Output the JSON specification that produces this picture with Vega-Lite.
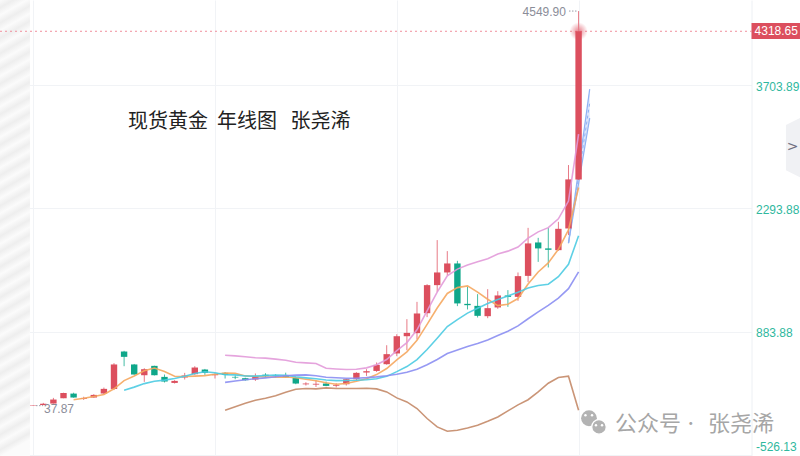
{"$schema":"https://vega.github.io/schema/vega-lite/v6.json","width":751.5,"height":456,"autosize":"none","padding":{"left":0,"top":0,"right":48.5,"bottom":0},"background":"#ffffff","view":{"stroke":null},
"datasets":{"candles":[
{"year":1971,"open":38.5,"close":43.5,"high":44,"low":37.87},{"year":1972,"open":45,"close":60,"high":70,"low":44},{"year":1973,"open":62,"close":108,"high":127,"low":62},{"year":1974,"open":123,"close":184,"high":186,"low":123},{"year":1975,"open":176,"close":131,"high":186,"low":129},{"year":1976,"open":116,"close":126,"high":140,"low":103},{"year":1977,"open":131,"close":161,"high":169,"low":128},{"year":1978,"open":177,"close":230,"high":245,"low":170},{"year":1979,"open":229,"close":509,"high":524,"low":216},{"year":1980,"open":657,"close":596,"high":665,"low":489},{"year":1981,"open":509,"close":394,"high":515,"low":392},{"year":1982,"open":386,"close":455,"high":466,"low":310},{"year":1983,"open":493,"close":386,"high":495,"low":383},{"year":1984,"open":367,"close":314,"high":394,"low":303},{"year":1985,"open":298,"close":321,"high":330,"low":291},{"year":1986,"open":360,"close":383,"high":413,"low":337},{"year":1987,"open":398,"close":474,"high":489,"low":390},{"year":1988,"open":451,"close":413,"high":458,"low":390},{"year":1989,"open":386,"close":398,"high":409,"low":348},{"year":1990,"open":413,"close":390,"high":421,"low":348},{"year":1991,"open":367,"close":360,"high":386,"low":340},{"year":1992,"open":352,"close":329,"high":358,"low":323},{"year":1993,"open":337,"close":378,"high":406,"low":321},{"year":1994,"open":392,"close":375,"high":409,"low":363},{"year":1995,"open":386,"close":380,"high":398,"low":358},{"year":1996,"open":380,"close":363,"high":415,"low":358},{"year":1997,"open":355,"close":291,"high":363,"low":283},{"year":1998,"open":282,"close":291,"high":306,"low":268},{"year":1999,"open":279,"close":288,"high":329,"low":252},{"year":2000,"open":291,"close":264,"high":314,"low":260},{"year":2001,"open":266,"close":276,"high":295,"low":246},{"year":2002,"open":283,"close":340,"high":346,"low":268},{"year":2003,"open":340,"close":413,"high":421,"low":326},{"year":2004,"open":417,"close":432,"high":455,"low":378},{"year":2005,"open":435,"close":504,"high":532,"low":424},{"year":2006,"open":512,"close":627,"high":729,"low":506},{"year":2007,"open":635,"close":832,"high":855,"low":604},{"year":2008,"open":832,"close":870,"high":1027,"low":672},{"year":2009,"open":867,"close":1092,"high":1225,"low":795},{"year":2010,"open":1095,"close":1416,"high":1427,"low":1050},{"year":2011,"open":1416,"close":1561,"high":1931,"low":1339},{"year":2012,"open":1561,"close":1664,"high":1805,"low":1527},{"year":2013,"open":1664,"close":1207,"high":1694,"low":1176},{"year":2014,"open":1202,"close":1187,"high":1396,"low":1138},{"year":2015,"open":1179,"close":1065,"high":1313,"low":1046},{"year":2016,"open":1061,"close":1153,"high":1370,"low":1038},{"year":2017,"open":1161,"close":1298,"high":1347,"low":1145},{"year":2018,"open":1298,"close":1282,"high":1359,"low":1168},{"year":2019,"open":1282,"close":1519,"high":1561,"low":1236},{"year":2020,"open":1522,"close":1893,"high":2071,"low":1450},{"year":2021,"open":1904,"close":1836,"high":1957,"low":1682},{"year":2022,"open":1836,"close":1820,"high":2071,"low":1618},{"year":2023,"open":1816,"close":2060,"high":2140,"low":1808},{"year":2024,"open":2064,"close":2625,"high":2789,"low":1988},{"year":2025,"open":2625,"close":4318.65,"high":4549.9,"low":2617}],
"lines":[
{"s":"MA5","year":1975,"value":105},{"s":"MA5","year":1976,"value":122},{"s":"MA5","year":1977,"value":142},{"s":"MA5","year":1978,"value":166},{"s":"MA5","year":1979,"value":231},{"s":"MA5","year":1980,"value":324},{"s":"MA5","year":1981,"value":378},{"s":"MA5","year":1982,"value":437},{"s":"MA5","year":1983,"value":468},{"s":"MA5","year":1984,"value":429},{"s":"MA5","year":1985,"value":374},{"s":"MA5","year":1986,"value":372},{"s":"MA5","year":1987,"value":376},{"s":"MA5","year":1988,"value":381},{"s":"MA5","year":1989,"value":398},{"s":"MA5","year":1990,"value":411},{"s":"MA5","year":1991,"value":407},{"s":"MA5","year":1992,"value":378},{"s":"MA5","year":1993,"value":371},{"s":"MA5","year":1994,"value":366},{"s":"MA5","year":1995,"value":364},{"s":"MA5","year":1996,"value":365},{"s":"MA5","year":1997,"value":357},{"s":"MA5","year":1998,"value":340},{"s":"MA5","year":1999,"value":323},{"s":"MA5","year":2000,"value":299},{"s":"MA5","year":2001,"value":282},{"s":"MA5","year":2002,"value":292},{"s":"MA5","year":2003,"value":316},{"s":"MA5","year":2004,"value":345},{"s":"MA5","year":2005,"value":393},{"s":"MA5","year":2006,"value":463},{"s":"MA5","year":2007,"value":562},{"s":"MA5","year":2008,"value":653},{"s":"MA5","year":2009,"value":785},{"s":"MA5","year":2010,"value":967},{"s":"MA5","year":2011,"value":1154},{"s":"MA5","year":2012,"value":1321},{"s":"MA5","year":2013,"value":1388},{"s":"MA5","year":2014,"value":1407},{"s":"MA5","year":2015,"value":1337},{"s":"MA5","year":2016,"value":1255},{"s":"MA5","year":2017,"value":1182},{"s":"MA5","year":2018,"value":1197},{"s":"MA5","year":2019,"value":1263},{"s":"MA5","year":2020,"value":1429},{"s":"MA5","year":2021,"value":1566},{"s":"MA5","year":2022,"value":1670},{"s":"MA5","year":2023,"value":1826},{"s":"MA5","year":2024,"value":2047},{"s":"MA5","year":2025,"value":2532},
{"s":"MA10","year":1980,"value":215},{"s":"MA10","year":1981,"value":250},{"s":"MA10","year":1982,"value":290},{"s":"MA10","year":1983,"value":317},{"s":"MA10","year":1984,"value":330},{"s":"MA10","year":1985,"value":349},{"s":"MA10","year":1986,"value":375},{"s":"MA10","year":1987,"value":406},{"s":"MA10","year":1988,"value":425},{"s":"MA10","year":1989,"value":414},{"s":"MA10","year":1990,"value":392},{"s":"MA10","year":1991,"value":390},{"s":"MA10","year":1992,"value":377},{"s":"MA10","year":1993,"value":376},{"s":"MA10","year":1994,"value":382},{"s":"MA10","year":1995,"value":388},{"s":"MA10","year":1996,"value":386},{"s":"MA10","year":1997,"value":368},{"s":"MA10","year":1998,"value":356},{"s":"MA10","year":1999,"value":345},{"s":"MA10","year":2000,"value":332},{"s":"MA10","year":2001,"value":324},{"s":"MA10","year":2002,"value":325},{"s":"MA10","year":2003,"value":328},{"s":"MA10","year":2004,"value":334},{"s":"MA10","year":2005,"value":346},{"s":"MA10","year":2006,"value":373},{"s":"MA10","year":2007,"value":427},{"s":"MA10","year":2008,"value":485},{"s":"MA10","year":2009,"value":565},{"s":"MA10","year":2010,"value":680},{"s":"MA10","year":2011,"value":809},{"s":"MA10","year":2012,"value":942},{"s":"MA10","year":2013,"value":1021},{"s":"MA10","year":2014,"value":1096},{"s":"MA10","year":2015,"value":1152},{"s":"MA10","year":2016,"value":1205},{"s":"MA10","year":2017,"value":1252},{"s":"MA10","year":2018,"value":1293},{"s":"MA10","year":2019,"value":1335},{"s":"MA10","year":2020,"value":1383},{"s":"MA10","year":2021,"value":1411},{"s":"MA10","year":2022,"value":1426},{"s":"MA10","year":2023,"value":1512},{"s":"MA10","year":2024,"value":1655},{"s":"MA10","year":2025,"value":1981},
{"s":"MA20","year":1990,"value":304},{"s":"MA20","year":1991,"value":320},{"s":"MA20","year":1992,"value":334},{"s":"MA20","year":1993,"value":346},{"s":"MA20","year":1994,"value":356},{"s":"MA20","year":1995,"value":368},{"s":"MA20","year":1996,"value":380},{"s":"MA20","year":1997,"value":387},{"s":"MA20","year":1998,"value":390},{"s":"MA20","year":1999,"value":380},{"s":"MA20","year":2000,"value":362},{"s":"MA20","year":2001,"value":357},{"s":"MA20","year":2002,"value":351},{"s":"MA20","year":2003,"value":352},{"s":"MA20","year":2004,"value":358},{"s":"MA20","year":2005,"value":367},{"s":"MA20","year":2006,"value":380},{"s":"MA20","year":2007,"value":398},{"s":"MA20","year":2008,"value":420},{"s":"MA20","year":2009,"value":455},{"s":"MA20","year":2010,"value":506},{"s":"MA20","year":2011,"value":566},{"s":"MA20","year":2012,"value":634},{"s":"MA20","year":2013,"value":674},{"s":"MA20","year":2014,"value":715},{"s":"MA20","year":2015,"value":749},{"s":"MA20","year":2016,"value":789},{"s":"MA20","year":2017,"value":840},{"s":"MA20","year":2018,"value":889},{"s":"MA20","year":2019,"value":950},{"s":"MA20","year":2020,"value":1032},{"s":"MA20","year":2021,"value":1110},{"s":"MA20","year":2022,"value":1184},{"s":"MA20","year":2023,"value":1267},{"s":"MA20","year":2024,"value":1376},{"s":"MA20","year":2025,"value":1567},
{"s":"UP","year":1990,"value":615},{"s":"UP","year":1991,"value":607},{"s":"UP","year":1992,"value":598},{"s":"UP","year":1993,"value":586},{"s":"UP","year":1994,"value":581},{"s":"UP","year":1995,"value":570},{"s":"UP","year":1996,"value":558},{"s":"UP","year":1997,"value":535},{"s":"UP","year":1998,"value":527},{"s":"UP","year":1999,"value":520},{"s":"UP","year":2000,"value":466},{"s":"UP","year":2001,"value":458},{"s":"UP","year":2002,"value":452},{"s":"UP","year":2003,"value":455},{"s":"UP","year":2004,"value":470},{"s":"UP","year":2005,"value":506},{"s":"UP","year":2006,"value":565},{"s":"UP","year":2007,"value":667},{"s":"UP","year":2008,"value":759},{"s":"UP","year":2009,"value":905},{"s":"UP","year":2010,"value":1121},{"s":"UP","year":2011,"value":1337},{"s":"UP","year":2012,"value":1522},{"s":"UP","year":2013,"value":1599},{"s":"UP","year":2014,"value":1647},{"s":"UP","year":2015,"value":1684},{"s":"UP","year":2016,"value":1718},{"s":"UP","year":2017,"value":1771},{"s":"UP","year":2018,"value":1805},{"s":"UP","year":2019,"value":1851},{"s":"UP","year":2020,"value":1954},{"s":"UP","year":2021,"value":2025},{"s":"UP","year":2022,"value":2073},{"s":"UP","year":2023,"value":2174},{"s":"UP","year":2024,"value":2377},{"s":"UP","year":2025,"value":3143},
{"s":"DN","year":1990,"value":-14},{"s":"DN","year":1991,"value":26},{"s":"DN","year":1992,"value":66},{"s":"DN","year":1993,"value":100},{"s":"DN","year":1994,"value":123},{"s":"DN","year":1995,"value":152},{"s":"DN","year":1996,"value":192},{"s":"DN","year":1997,"value":226},{"s":"DN","year":1998,"value":234},{"s":"DN","year":1999,"value":230},{"s":"DN","year":2000,"value":241},{"s":"DN","year":2001,"value":234},{"s":"DN","year":2002,"value":234},{"s":"DN","year":2003,"value":235},{"s":"DN","year":2004,"value":237},{"s":"DN","year":2005,"value":230},{"s":"DN","year":2006,"value":195},{"s":"DN","year":2007,"value":127},{"s":"DN","year":2008,"value":81},{"s":"DN","year":2009,"value":5},{"s":"DN","year":2010,"value":-109},{"s":"DN","year":2011,"value":-205},{"s":"DN","year":2012,"value":-254},{"s":"DN","year":2013,"value":-243},{"s":"DN","year":2014,"value":-217},{"s":"DN","year":2015,"value":-186},{"s":"DN","year":2016,"value":-140},{"s":"DN","year":2017,"value":-91},{"s":"DN","year":2018,"value":-22},{"s":"DN","year":2019,"value":47},{"s":"DN","year":2020,"value":106},{"s":"DN","year":2021,"value":195},{"s":"DN","year":2022,"value":295},{"s":"DN","year":2023,"value":360},{"s":"DN","year":2024,"value":375},{"s":"DN","year":2025,"value":-14}]},
"encoding":{"x":{"field":"year","type":"quantitative","title":null,"scale":{"domain":[1967.713,2042.12],"nice":false,"zero":false,"padding":0},"axis":{"values":[1971,1989,2007,2025],"labels":false,"ticks":false,"domain":false,"grid":true,"gridColor":"#f1f3f6","gridWidth":1,"title":null}},
"y":{"field":"value","type":"quantitative","title":null,"scale":{"domain":[-537.6,4676.3],"nice":false,"zero":false,"padding":0},"axis":{"orient":"right","values":[3703.89,2293.88,883.88,-526.13],"format":".2f","labelExpr":"replace(datum.label,'\u2212','-')","ticks":false,"grid":true,"gridColor":"#f1f3f6","gridWidth":1,"domain":true,"domainColor":"#edf0f4","labelColor":"#2fb89e","labelFont":"Liberation Sans","labelFontSize":12,"labelPadding":4,"labelOffset":{"condition":{"test":"datum.value<0","value":-8},"value":1},"title":null}}},
"layer":[
{"data":{"values":[{"year":1967.713,"year2":1970.68,"value":4676.3,"value2":-537.6}]},"mark":{"type":"rect","color":{"gradient":"linear","x1":0,"y1":0,"x2":0.0374,"y2":1,"stops":[{"offset":0,"color":"#fbfbfb"},{"offset":0.0167,"color":"#eeeeee"},{"offset":0.0334,"color":"#fbfbfb"},{"offset":0.0501,"color":"#eeeeee"},{"offset":0.0668,"color":"#fbfbfb"},{"offset":0.0835,"color":"#eeeeee"},{"offset":0.1002,"color":"#fbfbfb"},{"offset":0.1169,"color":"#eeeeee"},{"offset":0.1336,"color":"#fbfbfb"},{"offset":0.1503,"color":"#eeeeee"},{"offset":0.167,"color":"#fbfbfb"},{"offset":0.1837,"color":"#eeeeee"},{"offset":0.2004,"color":"#fbfbfb"},{"offset":0.2171,"color":"#eeeeee"},{"offset":0.2338,"color":"#fbfbfb"},{"offset":0.2505,"color":"#eeeeee"},{"offset":0.2672,"color":"#fbfbfb"},{"offset":0.2839,"color":"#eeeeee"},{"offset":0.3006,"color":"#fbfbfb"},{"offset":0.3173,"color":"#eeeeee"},{"offset":0.334,"color":"#fbfbfb"},{"offset":0.3507,"color":"#eeeeee"},{"offset":0.3674,"color":"#fbfbfb"},{"offset":0.3841,"color":"#eeeeee"},{"offset":0.4008,"color":"#fbfbfb"},{"offset":0.4175,"color":"#eeeeee"},{"offset":0.4342,"color":"#fbfbfb"},{"offset":0.4509,"color":"#eeeeee"},{"offset":0.4676,"color":"#fbfbfb"},{"offset":0.4843,"color":"#eeeeee"},{"offset":0.501,"color":"#fbfbfb"},{"offset":0.5177,"color":"#eeeeee"},{"offset":0.5344,"color":"#fbfbfb"},{"offset":0.5511,"color":"#eeeeee"},{"offset":0.5678,"color":"#fbfbfb"},{"offset":0.5845,"color":"#eeeeee"},{"offset":0.6012,"color":"#fbfbfb"},{"offset":0.6179,"color":"#eeeeee"},{"offset":0.6346,"color":"#fbfbfb"},{"offset":0.6513,"color":"#eeeeee"},{"offset":0.668,"color":"#fbfbfb"},{"offset":0.6847,"color":"#eeeeee"},{"offset":0.7014,"color":"#fbfbfb"},{"offset":0.7181,"color":"#eeeeee"},{"offset":0.7348,"color":"#fbfbfb"},{"offset":0.7515,"color":"#eeeeee"},{"offset":0.7682,"color":"#fbfbfb"},{"offset":0.7849,"color":"#eeeeee"},{"offset":0.8016,"color":"#fbfbfb"},{"offset":0.8183,"color":"#eeeeee"},{"offset":0.835,"color":"#fbfbfb"},{"offset":0.8517,"color":"#eeeeee"},{"offset":0.8684,"color":"#fbfbfb"},{"offset":0.8851,"color":"#eeeeee"},{"offset":0.9018,"color":"#fbfbfb"},{"offset":0.9185,"color":"#eeeeee"},{"offset":0.9352,"color":"#fbfbfb"},{"offset":0.9519,"color":"#eeeeee"},{"offset":0.9686,"color":"#fbfbfb"},{"offset":0.9853,"color":"#eeeeee"},{"offset":1,"color":"#fbfbfb"}]}},"encoding":{"x2":{"field":"year2"},"y2":{"field":"value2"}}},
{"data":{"values":[{"year":1967.713,"year2":2042.12,"value":4318.65}]},"mark":{"type":"rule","color":"#f0909c","strokeWidth":1,"strokeDash":[2,3]},"encoding":{"x2":{"field":"year2"}}},
{"data":{"values":[{"year":2024,"value":1896,"value2":1896},{"year":2026.1,"value":3658,"value2":3326}]},"mark":{"type":"area","color":"#dbe6fb","orient":"vertical"},"encoding":{"y2":{"field":"value2"}}},
{"data":{"values":[{"s":"a","year":2024,"value":1896},{"s":"a","year":2026.1,"value":3658},{"s":"b","year":2024,"value":1896},{"s":"b","year":2026.1,"value":3326}]},"mark":{"type":"line","color":"#8fb2f4","strokeWidth":1.2},"encoding":{"detail":{"field":"s"}}},
{"data":{"values":[{"year":2024,"value":1896},{"year":2026.1,"value":3498}]},"mark":{"type":"line","color":"#8fb2f4","strokeWidth":1,"strokeDash":[3,3]}},
{"data":{"values":[{"year":2025,"value":4318}]},"mark":{"type":"point","filled":true,"size":330,"opacity":1,"color":{"gradient":"radial","stops":[{"offset":0,"color":"rgba(224,88,104,0.75)"},{"offset":1,"color":"rgba(224,88,104,0)"}]}}},
{"data":{"name":"candles"},"mark":{"type":"rule","strokeWidth":1},"encoding":{"y":{"field":"high","type":"quantitative","title":null,"scale":{"domain":[-537.6,4676.3],"nice":false,"zero":false,"padding":0},"axis":{"orient":"right","values":[3703.89,2293.88,883.88,-526.13],"format":".2f","labelExpr":"replace(datum.label,'\u2212','-')","ticks":false,"grid":true,"gridColor":"#f1f3f6","gridWidth":1,"domain":true,"domainColor":"#edf0f4","labelColor":"#2fb89e","labelFont":"Liberation Sans","labelFontSize":12,"labelPadding":4,"labelOffset":{"condition":{"test":"datum.value<0","value":-8},"value":1},"title":null}},"y2":{"field":"low"},"color":{"condition":{"test":"datum.close>=datum.open","value":"#e77a86"},"value":"#45bda5"}}},
{"data":{"name":"candles"},"mark":{"type":"bar","size":6.4,"orient":"vertical"},"encoding":{"y":{"field":"open","type":"quantitative","title":null,"scale":{"domain":[-537.6,4676.3],"nice":false,"zero":false,"padding":0},"axis":{"orient":"right","values":[3703.89,2293.88,883.88,-526.13],"format":".2f","labelExpr":"replace(datum.label,'\u2212','-')","ticks":false,"grid":true,"gridColor":"#f1f3f6","gridWidth":1,"domain":true,"domainColor":"#edf0f4","labelColor":"#2fb89e","labelFont":"Liberation Sans","labelFontSize":12,"labelPadding":4,"labelOffset":{"condition":{"test":"datum.value<0","value":-8},"value":1},"title":null}},"y2":{"field":"close"},"color":{"condition":{"test":"datum.close>=datum.open","value":"#dc4f5e"},"value":"#0fa78a"}}},
{"data":{"name":"lines"},"mark":{"type":"line","strokeWidth":1.6,"opacity":0.9},"encoding":{"color":{"field":"s","type":"nominal","legend":null,"scale":{"domain":["MA5","MA10","MA20","UP","DN"],"range":["#f5a75f","#4ccbe2","#8b8ef2","#e29ad9","#c48a68"]}}}},
{"data":{"values":[{"year":2024.05,"year2":2024.84,"value":4549.9},{"year":1971.28,"year2":1971.97,"value":37.87}]},"mark":{"type":"rule","color":"#9a9ca8","strokeWidth":1,"strokeDash":[1.5,1.5]},"encoding":{"x2":{"field":"year2"}}},
{"data":{"values":[{"year":2023.75,"value":4539,"label":"4549.90"}]},"mark":{"type":"text","align":"right","baseline":"middle","color":"#8b8d99","font":"Liberation Sans","fontSize":12},"encoding":{"text":{"field":"label"}}},
{"data":{"values":[{"year":1972.07,"value":-3,"label":"37.87"}]},"mark":{"type":"text","align":"left","baseline":"middle","color":"#8b8d99","font":"Liberation Sans","fontSize":12},"encoding":{"text":{"field":"label"}}},
{"data":{"values":[{"year":2042.12,"year2":2046.92,"value":4413,"value2":4230}]},"mark":{"type":"rect","color":"#dc4f5e"},"encoding":{"x2":{"field":"year2"},"y2":{"field":"value2"}}},
{"data":{"values":[{"year":2042.42,"value":4318.65,"label":"4318.65"}]},"mark":{"type":"text","align":"left","baseline":"middle","color":"#ffffff","font":"Liberation Sans","fontSize":12},"encoding":{"text":{"field":"label"}}},
{"data":{"values":[{"year":2045.53,"value":3246,"value2":2731},{"year":2046.92,"value":3326,"value2":2651}]},"mark":{"type":"area","color":"#f0f1f4","orient":"vertical"},"encoding":{"y2":{"field":"value2"}}},
{"data":{"values":[{"year":2046.2,"value":2995,"label":">"}]},"mark":{"type":"text","align":"center","baseline":"middle","color":"#6e7080","font":"DejaVu Sans","fontSize":14},"encoding":{"text":{"field":"label"}}},
{"data":{"values":[{"year":1980.39,"value":3280,"label":"现货黄金\u00a0\u00a0年线图\u00a0\u00a0\u00a0张尧浠"}]},"mark":{"type":"text","align":"left","baseline":"middle","color":"#222222","font":"Noto Sans CJK SC","fontSize":20},"encoding":{"text":{"field":"label"}}},
{"data":{"values":[{"year":2026.03,"value":-106}]},"mark":{"type":"point","filled":true,"opacity":1,"size":250,"color":"#b3b3b3"}},
{"data":{"values":[{"year":2027.02,"value":-205}]},"mark":{"type":"point","filled":true,"opacity":1,"size":210,"fill":"#b3b3b3","stroke":"#ffffff","strokeWidth":1.2}},
{"data":{"values":[{"year":2025.68,"value":-71},{"year":2026.33,"value":-71},{"year":2026.72,"value":-186},{"year":2027.32,"value":-186}]},"mark":{"type":"point","filled":true,"opacity":1,"size":6,"color":"#ffffff"}},
{"data":{"values":[{"year":2028.6,"value":-175,"label":"公众号"},{"year":2037.81,"value":-175,"label":"张尧浠"}]},"mark":{"type":"text","align":"left","baseline":"middle","color":"#a6a6a6","font":"Noto Sans CJK SC","fontSize":22},"encoding":{"text":{"field":"label"}}},
{"data":{"values":[{"year":2036.1,"value":-175,"label":"·"}]},"mark":{"type":"text","align":"center","baseline":"middle","color":"#a6a6a6","font":"Noto Sans CJK SC","fontSize":14},"encoding":{"text":{"field":"label"}}}
]}
